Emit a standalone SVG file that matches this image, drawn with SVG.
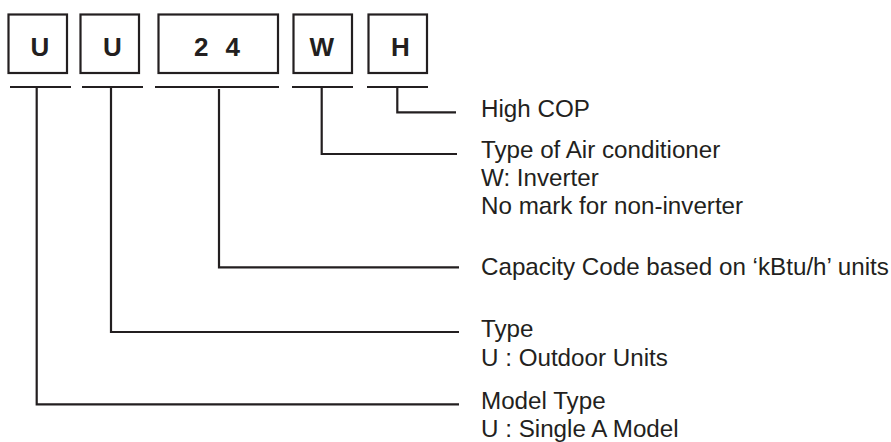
<svg xmlns="http://www.w3.org/2000/svg" width="891" height="442" viewBox="0 0 891 442">
<style>
.box{fill:#fff;stroke:#231f20;stroke-width:2.2}
.code{font-family:"Liberation Sans",Arial,sans-serif;font-weight:bold;font-size:26px;fill:#231f20;text-anchor:middle}
.lbl{font-family:"Liberation Sans",Arial,sans-serif;font-size:24.2px;fill:#231f20}
.ln{fill:none;stroke:#231f20;stroke-width:2.2}
</style>
<rect width="891" height="442" fill="#fff"/>
<g id="node-u1"><rect class="box" x="8.5" y="14.5" width="58.5" height="58.5"/><text class="code" x="40" y="56">U</text></g>
<g id="node-u2"><rect class="box" x="80.5" y="14.5" width="58.5" height="58.5"/><text class="code" x="112.3" y="56">U</text></g>
<g id="node-24"><rect class="box" x="158.5" y="14.5" width="119.5" height="58.5"/><text class="code" x="217" y="56" xml:space="preserve" word-spacing="10">2 4</text></g>
<g id="node-w"><rect class="box" x="293.5" y="14.5" width="58.5" height="58.5"/><text class="code" x="321.7" y="56">W</text></g>
<g id="node-h"><rect class="box" x="368.5" y="14.5" width="58.5" height="58.5"/><text class="code" x="400.3" y="56">H</text></g>
<g id="connectors">
<path class="ln" d="M10 87H71M82 87H143M155 87H279M292 87H353M367 87H428"/>
<path class="ln" d="M397.3 87V112.3H456"/>
<path class="ln" d="M321.7 87V154H457"/>
<path class="ln" d="M219 89V267.3H459"/>
<path class="ln" d="M111 87V332H459"/>
<path class="ln" d="M36.7 87V404.3H459"/>
</g>
<g id="labels">
<text class="lbl" x="481" y="117">High COP</text>
<text class="lbl" x="481" y="158">Type of Air conditioner</text>
<text class="lbl" x="481" y="186">W: Inverter</text>
<text class="lbl" x="481" y="214">No mark for non-inverter</text>
<text class="lbl" x="481" y="275">Capacity Code based on ‘kBtu/h’ units</text>
<text class="lbl" x="481" y="337">Type</text>
<text class="lbl" x="481" y="366">U : Outdoor Units</text>
<text class="lbl" x="481" y="409">Model Type</text>
<text class="lbl" x="481" y="437">U : Single A Model</text>
</g>
</svg>
